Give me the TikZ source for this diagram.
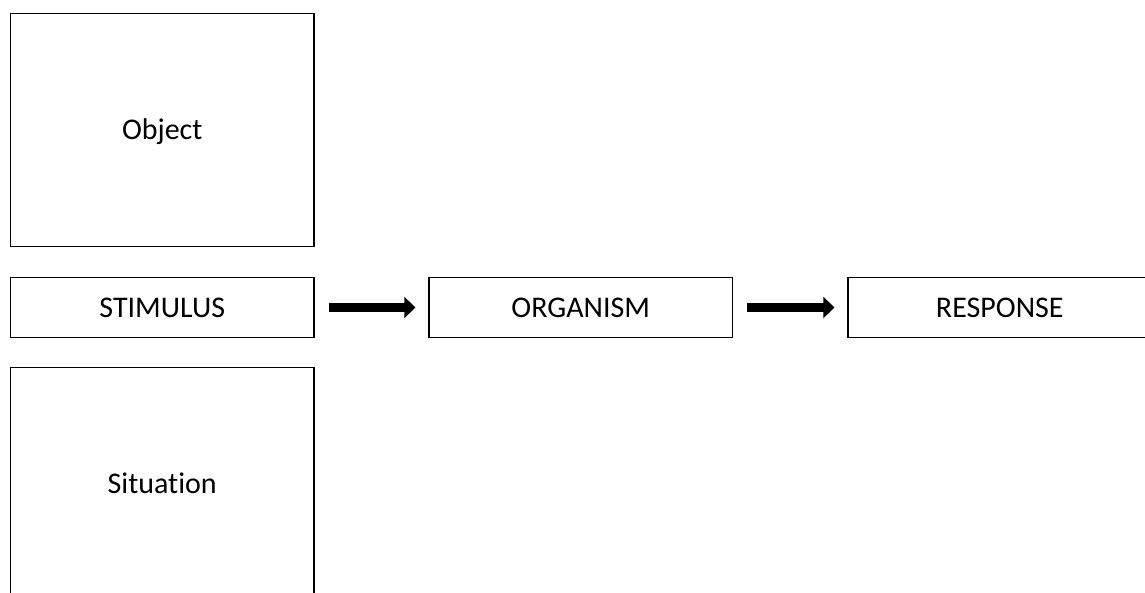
\documentclass[tikz,border=0pt]{standalone}
\usepackage{fontspec}
\setmainfont[RawFeature={-liga;-dlig}]{Carlito}
\usetikzlibrary{arrows.meta,calc}
\tikzset{
  box/.style={draw=black, line width=1.3pt, fill=white, rectangle,
    minimum width=303.5pt, inner sep=0pt,
    text height=19.3pt, text depth=0pt,
    font=\fontsize{30}{36}\selectfont},
  tallbox/.style={box, minimum height=233pt},
  flatbox/.style={box, minimum height=60pt},
  blockarrow/.style={line width=9.5pt, black,
    -{Triangle[length=11pt, width=21pt]}}
}
\begin{document}
\begin{tikzpicture}[x=1pt, y=-1pt]
  \useasboundingbox (0,0) rectangle (1145,593);
  \clip (0,0) rectangle (1145,593);
  \fill[white] (0,0) rectangle (1145,593);

  % context boxes above and below the stimulus
  \node[tallbox] (obj) at (162.25,130) {Object};
  \node[tallbox] (sit) at (162.25,484) {Situation};

  % S -> O -> R chain
  \node[flatbox] (stim) at (162.25,307.5) {STIMULUS};
  \node[flatbox] (org)  at (580.75,307.5) {ORGANISM};
  \node[flatbox] (resp) at (999.75,307.5) {RESPONSE};

  \draw[blockarrow] ($(stim.east)+(14,0)$) -- ($(org.west)+(-13,0)$);
  \draw[blockarrow] ($(org.east)+(14,0)$) -- ($(resp.west)+(-13,0)$);
\end{tikzpicture}
\end{document}
